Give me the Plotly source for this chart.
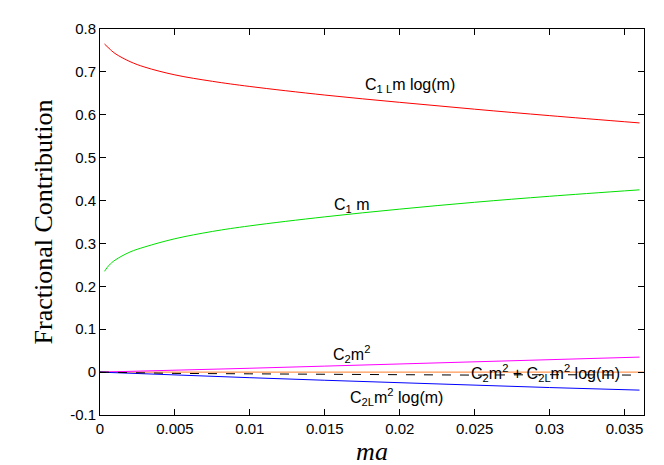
import plotly.graph_objects as go

# curve values
x_log = [0.0003, 0.0006, 0.001, 0.002, 0.003, 0.005, 0.0075, 0.01, 0.015, 0.02, 0.025, 0.03, 0.036]
c1l = [0.765, 0.755, 0.743, 0.724, 0.711, 0.693, 0.678, 0.666, 0.646, 0.629, 0.613, 0.598, 0.581]
c1 = [0.235, 0.249, 0.261, 0.280, 0.292, 0.311, 0.328, 0.341, 0.362, 0.380, 0.396, 0.410, 0.425]

x_lin = [0.0, 0.005, 0.01, 0.015, 0.02, 0.025, 0.03, 0.036]
c2 = [0.0, 0.004, 0.009, 0.014, 0.019, 0.024, 0.030, 0.035]
c2l = [0.0, -0.007, -0.013, -0.019, -0.025, -0.031, -0.036, -0.042]
c2sum = [0.0, -0.003, -0.004, -0.005, -0.006, -0.007, -0.006, -0.007]

y_ticks = [-0.1, 0, 0.1, 0.2, 0.3, 0.4, 0.5, 0.6, 0.7, 0.8]
y_text = ["-0.1", "0", "0.1", "0.2", "0.3", "0.4", "0.5", "0.6", "0.7", "0.8"]
x_ticks = [0, 0.005, 0.01, 0.015, 0.02, 0.025, 0.03, 0.035]
x_text = ["0", "0.005", "0.01", "0.015", "0.02", "0.025", "0.03", "0.035"]

fig = go.Figure()
fig.add_trace(go.Scatter(x=[0, 0.0365], y=[0, 0], mode="lines", line=dict(color="#ff7f2a", width=1)))
fig.add_trace(go.Scatter(x=x_log, y=c1l, mode="lines", line=dict(color="red", width=1), line_shape="spline"))
fig.add_trace(go.Scatter(x=x_log, y=c1, mode="lines", line=dict(color="#00e000", width=1), line_shape="spline"))
fig.add_trace(go.Scatter(x=x_lin, y=c2, mode="lines", line=dict(color="magenta", width=1)))
fig.add_trace(go.Scatter(x=x_lin, y=c2l, mode="lines", line=dict(color="blue", width=1)))
fig.add_trace(go.Scatter(x=x_lin, y=c2sum, mode="lines", line=dict(color="black", width=1, dash="dash")))

lbl = dict(showarrow=False, font=dict(family="Liberation Sans", size=16, color="black"))
fig.add_annotation(x=0.0207, y=0.668, text="C<sub>1 L</sub>m log(m)", **lbl)
fig.add_annotation(x=0.0168, y=0.388, text="C<sub>1</sub> m", **lbl)
fig.add_annotation(x=0.0168, y=0.042, text="C<sub>2</sub>m<sup>2</sup>", **lbl)
fig.add_annotation(x=0.0297, y=-0.003, text="C<sub>2</sub>m<sup>2</sup> + C<sub>2L</sub>m<sup>2</sup> log(m)", **lbl)
fig.add_annotation(x=0.0198, y=-0.057, text="C<sub>2L</sub>m<sup>2</sup> log(m)", **lbl)

ax = dict(showgrid=False, zeroline=False, showline=True, linecolor="black", mirror="ticks",
          ticks="inside", ticklen=6, tickcolor="black",
          tickfont=dict(family="Liberation Sans", size=15, color="black"))
fig.update_xaxes(range=[0, 0.0363], tickvals=x_ticks, ticktext=x_text,
                 title=dict(text="<i>ma</i>", font=dict(family="Liberation Serif", size=26, color="black"), standoff=4), **ax)
fig.update_yaxes(range=[-0.1, 0.8], tickvals=y_ticks, ticktext=y_text,
                 title=dict(text="Fractional Contribution", font=dict(family="Liberation Serif", size=26, color="black"), standoff=10), **ax)
fig.update_layout(width=664, height=465, showlegend=False, plot_bgcolor="white", paper_bgcolor="white",
                  margin=dict(l=92, r=28, t=12, b=58))
fig.write_html("out.html")
